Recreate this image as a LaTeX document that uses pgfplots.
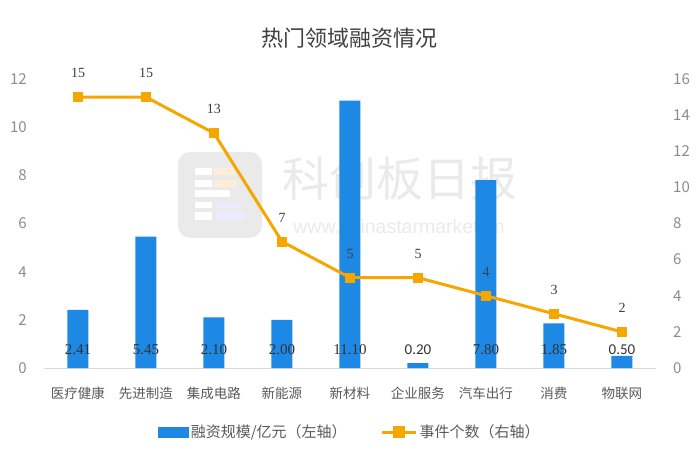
\documentclass[border=0pt]{standalone}
\usepackage{fontspec}
\setmainfont{Noto Sans CJK SC}
\newfontfamily\numfont{Liberation Serif}
\newfontfamily\sanslab{Carlito}
\newfontfamily\urlfont{Liberation Sans}
\usepackage{pgfplots}
\pgfplotsset{compat=1.18}
\definecolor{barblue}{RGB}{30,136,229}
\definecolor{lineorange}{RGB}{246,166,0}
\definecolor{ticktext}{RGB}{140,140,140}
\definecolor{cattext}{RGB}{89,89,89}
\definecolor{labtext}{RGB}{50,50,50}
\definecolor{titletext}{RGB}{64,64,64}
\definecolor{wm}{RGB}{234,234,234}
\begin{document}
\begin{tikzpicture}
\useasboundingbox (-44bp,-90bp) rectangle (656bp,368bp);
% watermark
\fill[wm, rounded corners=12bp] (134bp,130bp) rectangle (218bp,216bp);
\fill[white] (151bp,193bp) rectangle (168bp,200bp);
\fill[orange!15] (170bp,193bp) rectangle (191bp,200bp);
\fill[white] (151bp,181bp) rectangle (168bp,188bp);
\fill[orange!15] (170bp,181bp) rectangle (193bp,188bp);
\fill[white] (151bp,171bp) rectangle (186bp,178bp);
\fill[white] (151bp,160bp) rectangle (168bp,166bp);
\fill[blue!8] (172bp,160bp) rectangle (196bp,166bp);
\fill[white] (151bp,148bp) rectangle (168bp,156bp);
\fill[blue!8] (172bp,148bp) rectangle (201bp,156bp);
\node[text=wm, font=\fontsize{47bp}{54bp}\selectfont] at (356bp,189bp) {科创板日报};
\node[text=wm, font=\urlfont\fontsize{19.5bp}{22bp}\selectfont] at (355bp,141bp) {www.chinastarmarket.cn};
% title
\node[text=titletext, font=\fontsize{22bp}{26bp}\selectfont] at (305bp,330bp) {热门领域融资情况};
\begin{axis}[
  scale only axis, width=612bp, height=289bp,
  at={(0,0)}, anchor=south west,
  xmin=-0.5, xmax=8.5, ymin=0, ymax=12,
  ytick={0,2,...,12},
  xtick={0,...,8},
  xticklabels={医疗健康,先进制造,集成电路,新能源,新材料,企业服务,汽车出行,消费,物联网},
  axis x line*=bottom, axis y line*=left,
  x axis line style={draw=black!15, line width=1bp, -},
  y axis line style={draw=none},
  major tick length=0pt,
  /pgf/number format/assume math mode=true,
  xticklabel style={font=\fontsize{13.5bp}{16bp}\selectfont, text=cattext, anchor=center, inner sep=0pt, yshift=-25bp},
  yticklabel style={font=\fontsize{15bp}{18bp}\selectfont, text=ticktext, anchor=east, inner sep=0pt, xshift=-17bp},
  clip=false,
]
\addplot[ybar, bar width=21bp, fill=barblue, draw=none] coordinates {
  (0,2.41) (1,5.45) (2,2.10) (3,2.00) (4,11.10) (5,0.20) (6,7.80) (7,1.85) (8,0.50)};
\addplot[draw=none, mark=none, nodes near coords, point meta=explicit symbolic,
  nodes near coords style={font=\numfont\fontsize{15bp}{18bp}\selectfont, text=labtext, anchor=center}]
  coordinates {
  (0,0.75)[2.41] (1,0.75)[5.45] (2,0.75)[2.10] (3,0.75)[2.00] (4,0.75)[11.10]
  (5,0.75)[{\sanslab 0.20}] (6,0.75)[7.80] (7,0.75)[1.85] (8,0.75)[{\sanslab 0.50}]};
\end{axis}
\begin{axis}[
  scale only axis, width=612bp, height=289bp,
  at={(0,0)}, anchor=south west,
  xmin=-0.5, xmax=8.5, ymin=0, ymax=16,
  ytick={0,2,...,16},
  axis y line*=right, axis x line=none,
  y axis line style={draw=none},
  major tick length=0pt,
  /pgf/number format/assume math mode=true,
  yticklabel style={font=\fontsize{15bp}{18bp}\selectfont, text=ticktext, anchor=west, inner sep=0pt, xshift=17bp},
  clip=false,
  legend style={at={(0.5,-0.2215)}, anchor=center, draw=none, fill=none,
    legend columns=2, font=\fontsize{15bp}{18bp}\selectfont, text=cattext,
    nodes={inner sep=2bp},
    /tikz/every even column/.append style={column sep=32bp}},
]
\addlegendimage{legend image code/.code={\fill[barblue] (0bp,-5bp) rectangle (30bp,5bp);}}
\addlegendentry{融资规模/亿元（左轴）}
\addplot[lineorange, line width=3bp, mark=square*, mark size=4.5bp,
  mark options={fill=lineorange, draw=lineorange, line width=0pt},
  nodes near coords,
  nodes near coords style={font=\numfont\fontsize{14bp}{17bp}\selectfont, text=titletext, anchor=center, yshift=24bp},
  legend image code/.code={\draw[lineorange, line width=3bp] (0bp,0bp) -- (34bp,0bp);
    \fill[lineorange] (12.5bp,-4.5bp) rectangle (21.5bp,4.5bp);}]
  coordinates {(0,15) (1,15) (2,13) (3,7) (4,5) (5,5) (6,4) (7,3) (8,2)};
\addlegendentry{事件个数（右轴）}
\end{axis}
\end{tikzpicture}
\end{document}
